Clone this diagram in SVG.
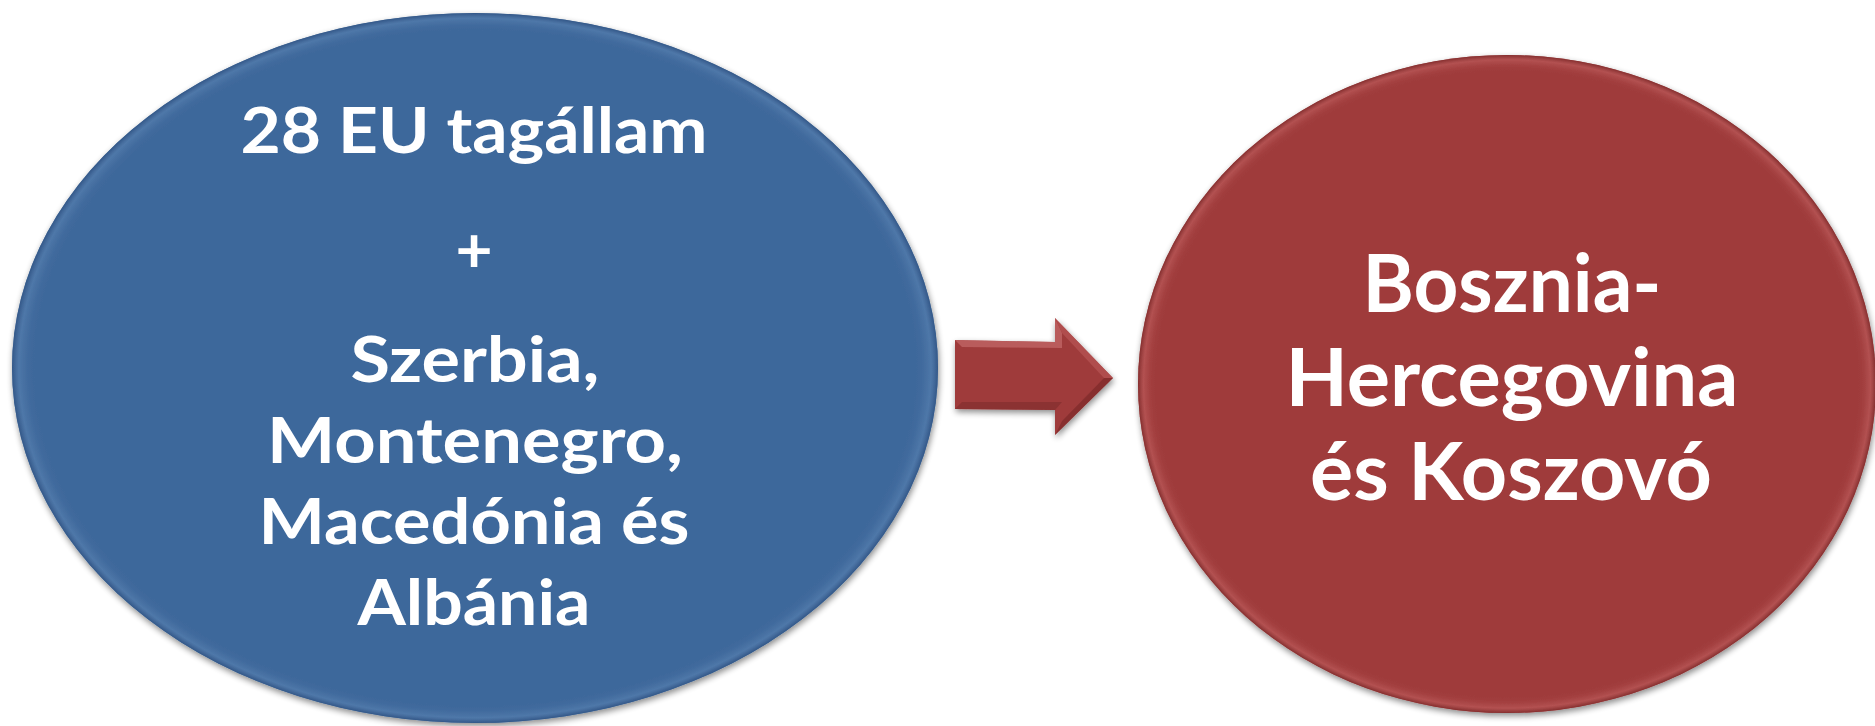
<svg xmlns="http://www.w3.org/2000/svg" width="1875" height="726" viewBox="0 0 1875 726">
  <style>
    .lbl { font-family: Lato, "Open Sans", "Liberation Sans", sans-serif; font-weight: bold; fill: #ffffff; text-anchor: middle; }
    .l { font-size: 64px; }
    .r { font-size: 80px; }
  </style>
  <defs>
    <filter id="shadow" x="-10%" y="-10%" width="120%" height="120%">
      <feGaussianBlur in="SourceAlpha" stdDeviation="3"/>
      <feOffset dx="1" dy="3" result="b"/>
      <feComponentTransfer><feFuncA type="linear" slope="0.45"/></feComponentTransfer>
      <feMerge><feMergeNode/><feMergeNode in="SourceGraphic"/></feMerge>
    </filter>
    <radialGradient id="blueRim" cx="50%" cy="50%" r="50%">
      <stop offset="0.95" stop-color="#3e689b" stop-opacity="0"/>
      <stop offset="0.985" stop-color="#5a82b2" stop-opacity="0.6"/>
      <stop offset="1" stop-color="#2f5282" stop-opacity="0.8"/>
    </radialGradient>
    <radialGradient id="redRim" cx="50%" cy="50%" r="50%">
      <stop offset="0.95" stop-color="#9f3b3b" stop-opacity="0"/>
      <stop offset="0.985" stop-color="#c06060" stop-opacity="0.6"/>
      <stop offset="1" stop-color="#7e2b2b" stop-opacity="0.8"/>
    </radialGradient>
  </defs>
  <rect width="1875" height="726" fill="#ffffff"/>

  <g id="node-left" filter="url(#shadow)">
    <ellipse cx="475" cy="368" rx="463" ry="355" fill="#3e689b"/>
    <ellipse cx="475" cy="368" rx="463" ry="355" fill="url(#blueRim)"/>
    <text class="lbl l" x="474" y="153" textLength="467" lengthAdjust="spacingAndGlyphs">28 EU tagállam</text>
    <text class="lbl l" x="474" y="272">+</text>
    <text class="lbl l" x="475" y="382" textLength="249" lengthAdjust="spacingAndGlyphs">Szerbia,</text>
    <text class="lbl l" x="475" y="463" textLength="416" lengthAdjust="spacingAndGlyphs">Montenegro,</text>
    <text class="lbl l" x="474" y="544" textLength="431" lengthAdjust="spacingAndGlyphs">Macedónia és</text>
    <text class="lbl l" x="474" y="625" textLength="233" lengthAdjust="spacingAndGlyphs">Albánia</text>
  </g>

  <g id="node-right" filter="url(#shadow)">
    <ellipse cx="1507" cy="384" rx="369" ry="329" fill="#9f3b3b"/>
    <ellipse cx="1507" cy="384" rx="369" ry="329" fill="url(#redRim)"/>
    <text class="lbl r" x="1512" y="312" textLength="299" lengthAdjust="spacingAndGlyphs">Bosznia-</text>
    <text class="lbl r" x="1512" y="406" textLength="453" lengthAdjust="spacingAndGlyphs">Hercegovina</text>
    <text class="lbl r" x="1511" y="500" textLength="402" lengthAdjust="spacingAndGlyphs">és Koszovó</text>
  </g>

  <g id="connectors" filter="url(#shadow)">
    <polygon points="955,340 1055,342 1055,318 1113,378 1055,435 1055,410 955,409" fill="#9f3b3b"/>
    <polygon points="955,340 1055,342 1055,318 1062,333 1062,348 962,347" fill="#c46a6a" opacity="0.7"/>
    <polygon points="1055,318 1113,378 1104,378 1062,333" fill="#b85656" opacity="0.7"/>
    <polygon points="1113,378 1055,435 1062,421 1104,378" fill="#7e2b2b" opacity="0.7"/>
    <polygon points="955,409 1055,410 1062,402 962,402" fill="#7e2b2b" opacity="0.6"/>
  </g>
</svg>
